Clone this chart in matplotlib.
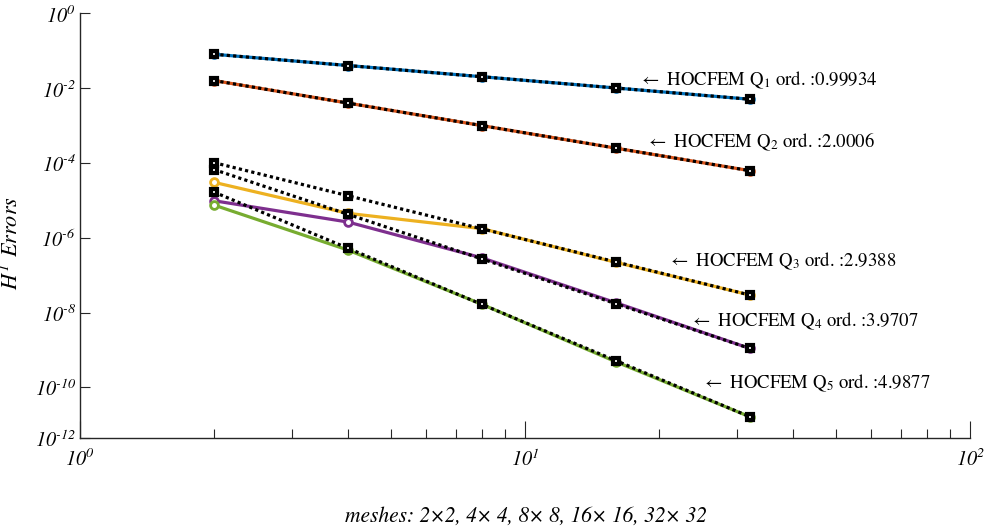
import matplotlib
matplotlib.use("Agg")
import matplotlib.pyplot as plt
from matplotlib.ticker import FixedLocator, FixedFormatter, LogLocator, NullFormatter

plt.rcParams.update({
    "font.family": "STIXGeneral",
    "mathtext.fontset": "custom",
    "mathtext.rm": "STIXGeneral:italic",
    "mathtext.it": "STIXGeneral:italic",
    "mathtext.sf": "STIXGeneral",
    "mathtext.fallback": "stix",
})

# mesh sizes (n for an n x n mesh)
meshes = [2, 4, 8, 16, 32]

# H1 errors of each element order
err_q1 = [8.02e-2, 4.01e-2, 2.01e-2, 1.005e-2, 5.03e-3]
err_q2 = [1.59e-2, 3.97e-3, 9.93e-4, 2.48e-4, 6.2e-5]
err_q3 = [3.03e-5, 4.49e-6, 1.75e-6, 2.2e-7, 2.94e-8]
err_q4 = [9.75e-6, 2.63e-6, 2.9e-7, 1.83e-8, 1.10e-9]
err_q5 = [7.48e-6, 4.69e-7, 1.66e-8, 4.83e-10, 1.64e-11]

# reference lines with the estimated convergence order
ref_q1 = [8.02e-2, 4.01e-2, 2.01e-2, 1.005e-2, 5.03e-3]
ref_q2 = [1.59e-2, 3.97e-3, 9.93e-4, 2.48e-4, 6.2e-5]
ref_q3 = [1.017e-4, 1.326e-5, 1.729e-6, 2.254e-7, 2.94e-8]
ref_q4 = [6.65e-5, 4.24e-6, 2.705e-7, 1.725e-8, 1.10e-9]
ref_q5 = [1.662e-5, 5.24e-7, 1.65e-8, 5.20e-10, 1.64e-11]

orders = ["0.99934", "2.0006", "2.9388", "3.9707", "4.9877"]
degrees = ["1", "2", "3", "4", "5"]

y_tick_values = [1e0, 1e-2, 1e-4, 1e-6, 1e-8, 1e-10]
y_tick_labels = ["$10^{0}$", r"$10^{\text{-}2}$", r"$10^{\text{-}4}$",
                 r"$10^{\text{-}6}$", r"$10^{\text{-}8}$", r"$10^{\text{-}10}$"]
y_bottom_label = r"$10^{\text{-}12}$"
x_tick_labels = ["$10^{0}$", "$10^{1}$", "$10^{2}$"]

colors = ["#0072BD", "#D95319", "#EDB120", "#7E2F8E", "#77AC30"]
errs = [err_q1, err_q2, err_q3, err_q4, err_q5]
refs = [ref_q1, ref_q2, ref_q3, ref_q4, ref_q5]

# label anchor positions (axes fraction, baseline)
label_pos = [(0.628, 0.831), (0.636, 0.685), (0.661, 0.405),
             (0.685, 0.264), (0.699, 0.118)]

fig = plt.figure(figsize=(9.88, 5.30), dpi=100)
ax = fig.add_axes([0.081, 0.173, 0.901, 0.802])
ax.set_xscale("log")
ax.set_yscale("log")

axis_col = "#262626"

for e, c in zip(errs, colors):
    ax.plot(meshes, e, color=c, lw=2.3, marker="o", ms=5.6, mew=2.0,
            mfc="white", mec=c, zorder=2)
for r in refs:
    ax.plot(meshes, r, color="black", lw=2.3, ls=(0, (1, 1)), marker="s",
            ms=4.4, mew=3.0, mfc="white", mec="black", zorder=3)

for (px, py), d, o in zip(label_pos, degrees, orders):
    ax.text(px, py, r"$\leftarrow$ HOCFEM Q$_{\mathsf{" + d + "}}$ ord. :" + o,
            transform=ax.transAxes, ha="left", va="baseline", fontsize=13.5,
            color="black")

y_low = 10 ** -11.36
ax.set_xlim(1, 100)
ax.set_ylim(y_low, 1)

ax.yaxis.set_major_locator(FixedLocator(y_tick_values + [y_low]))
ax.yaxis.set_major_formatter(FixedFormatter(y_tick_labels + [y_bottom_label]))
ax.yaxis.set_minor_locator(FixedLocator([]))

ax.xaxis.set_major_locator(FixedLocator([1, 10, 100]))
ax.xaxis.set_major_formatter(FixedFormatter(x_tick_labels))
ax.xaxis.set_minor_locator(LogLocator(base=10, subs=range(2, 10)))
ax.xaxis.set_minor_formatter(NullFormatter())

for s in ["top", "right"]:
    ax.spines[s].set_visible(False)
for s in ["left", "bottom"]:
    ax.spines[s].set_color(axis_col)
    ax.spines[s].set_linewidth(1.0)

ax.tick_params(axis="y", which="major", direction="in", length=7, width=0.8,
               color=axis_col, labelsize=14.5, pad=3)
ax.tick_params(axis="x", which="major", direction="in", length=12, width=0.8,
               color=axis_col, labelsize=14.5, pad=7)
ax.tick_params(axis="x", which="minor", direction="in", length=6.5, width=0.8,
               color=axis_col)

ax.set_xlabel("meshes: 2×2, 4× 4, 8× 8, 16× 16, 32× 32", fontsize=15.5,
              fontstyle="italic")
ax.xaxis.set_label_coords(0.501, -0.158)
ax.set_ylabel("$H^{1}$ Errors", fontsize=16, fontstyle="italic")
ax.yaxis.set_label_coords(-0.064, 0.46)

fig.savefig("out.png", dpi=100)
